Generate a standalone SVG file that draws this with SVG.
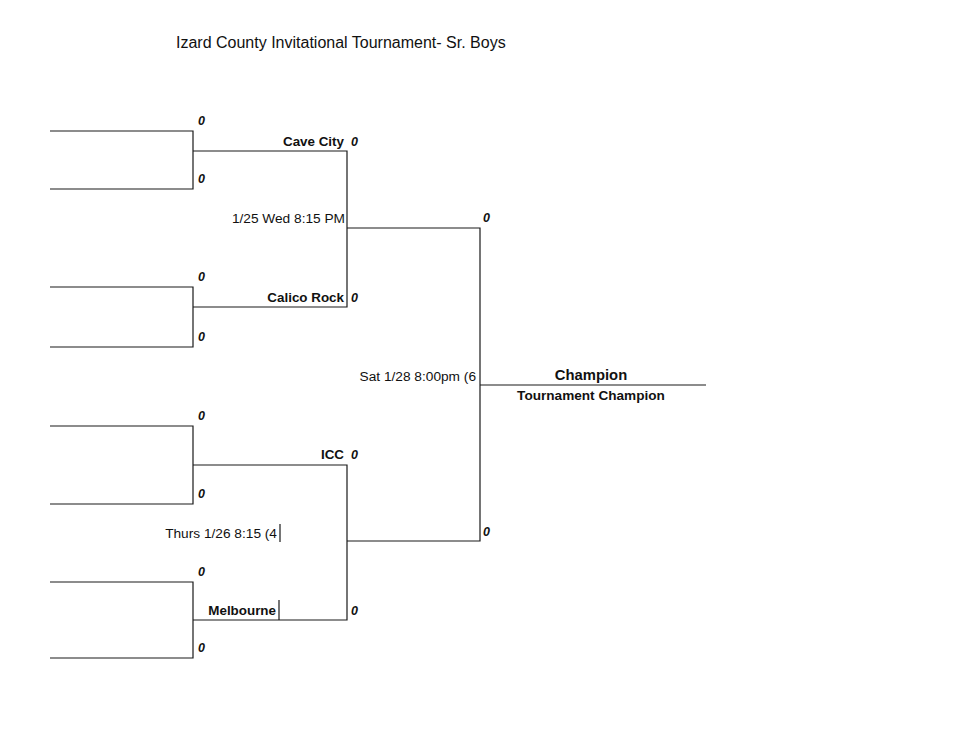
<svg xmlns="http://www.w3.org/2000/svg" width="955" height="734" viewBox="0 0 955 734">
<style>
.ln{stroke:#1a1a1a;stroke-width:1.2;fill:none}
text{font-family:"Liberation Sans",Arial,sans-serif;fill:#111}
.sc{font-size:12.5px;font-weight:bold;font-style:italic}
.tm{font-size:13.4px;font-weight:bold;text-anchor:end}
.dt{font-size:13.7px;text-anchor:end}
</style>
<rect width="955" height="734" fill="#fff"/>
<text id="title" x="176" y="48" font-size="16">Izard County Invitational Tournament- Sr. Boys</text>
<g id="connectors">
<path class="ln" d="M50 131H193V189H50"/>
<path class="ln" d="M50 287H193V347H50"/>
<path class="ln" d="M50 426H193V504H50"/>
<path class="ln" d="M50 582H193V658H50"/>
<path class="ln" d="M193 151H347V307H193"/>
<path class="ln" d="M193 465H347V620H193"/>
<path class="ln" d="M347 228H480V541H347"/>
<path class="ln" d="M480 385H706"/>
<path class="ln" d="M279 600V620"/>
<path class="ln" d="M280 524V542"/>
</g>
<g id="r1-scores">
<text class="sc" x="198" y="125">0</text>
<text class="sc" x="198" y="183">0</text>
<text class="sc" x="198" y="281">0</text>
<text class="sc" x="198" y="341">0</text>
<text class="sc" x="198" y="420">0</text>
<text class="sc" x="198" y="498">0</text>
<text class="sc" x="198" y="576">0</text>
<text class="sc" x="198" y="652">0</text>
</g>
<g id="cave-city"><text class="tm" x="344" y="146">Cave City</text><text class="sc" x="351" y="146">0</text></g>
<g id="calico-rock"><text class="tm" x="344" y="302">Calico Rock</text><text class="sc" x="351" y="302">0</text></g>
<g id="icc"><text class="tm" x="344" y="459">ICC</text><text class="sc" x="351" y="459">0</text></g>
<g id="melbourne"><text class="tm" x="276" y="615">Melbourne</text><text class="sc" x="351" y="615">0</text></g>
<g id="game1"><text class="dt" x="345" y="223">1/25 Wed 8:15 PM</text></g>
<g id="game2"><text class="dt" x="277" y="538">Thurs 1/26 8:15 (4</text></g>
<g id="semi"><text class="sc" x="483" y="222">0</text><text class="sc" x="483" y="536">0</text></g>
<g id="final"><text class="dt" x="476" y="381">Sat 1/28 8:00pm (6</text></g>
<g id="champion">
<text x="591" y="380" font-size="14.8" font-weight="bold" text-anchor="middle">Champion</text>
<text x="591" y="400" font-size="13.6" font-weight="bold" text-anchor="middle">Tournament Champion</text>
</g>
</svg>
